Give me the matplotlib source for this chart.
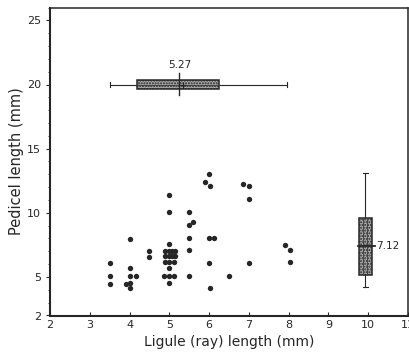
import matplotlib
matplotlib.use("Agg")
import matplotlib.pyplot as plt
from matplotlib.patches import Rectangle

# scatter data: ligule (x) vs pedicel (y) lengths, mm
ligule = [3.5, 3.5, 3.5,
          4.0, 4.0, 4.0, 4.15, 3.9, 4.0, 4.0,
          4.5, 4.5,
          5.0, 5.0, 5.0,
          4.88, 4.98, 5.06, 5.15,
          4.88, 4.98, 5.06, 5.15,
          4.88, 5.0, 5.12,
          5.0,
          4.87, 5.0, 5.12,
          5.0,
          5.5, 5.6, 5.5, 5.5, 5.5, 5.5,
          6.0, 5.9, 6.02, 6.0, 6.12, 6.0, 6.02,
          6.5,
          6.85, 7.0, 7.0, 7.0,
          7.92, 8.03, 8.03]
pedicel = [6.08, 5.05, 4.46,
           7.95, 5.69, 5.05, 5.08, 4.46, 4.57, 4.13,
           7.05, 6.54,
           11.42, 10.03, 7.57,
           7.05, 7.05, 7.05, 7.05,
           6.62, 6.62, 6.62, 6.62,
           6.15, 6.15, 6.15,
           5.69,
           5.08, 5.08, 5.08,
           4.57,
           10.03, 9.32, 9.03, 8.02, 7.08, 5.05,
           13.02, 12.42, 12.1, 8.02, 8.02, 6.1, 4.12,
           5.05,
           12.24, 12.1, 11.04, 6.1,
           7.47, 7.08, 6.17]

# summary of ligule length (drawn horizontally at y = 20)
lig_stats = dict(lo=3.51, q1=4.18, mean=5.25, med=5.35, q3=6.25, hi=7.97, label="5.27")
# summary of pedicel length (drawn vertically at x = 10)
ped_stats = dict(lo=4.23, q1=5.18, mean=7.45, q3=9.57, hi=13.08, label="7.12")

xticks = [2, 3, 4, 5, 6, 7, 8, 9, 10, 11]
yticks = [2, 5, 10, 15, 20, 25]

ink = "#262626"
fig = plt.figure(figsize=(4.09, 3.58), dpi=100)
ax = fig.add_axes([50/409, 1-315.5/358, 358/409, (315.5-7.5)/358])
ax.set_xlim(2, 11)
ax.set_ylim(2, 26)

ax.scatter(ligule, pedicel, s=15, color="#262626", zorder=3, linewidths=0)

# horizontal box (ligule) at y=20
yc, hh = 20.0, 0.38
s = lig_stats
ax.plot([s["lo"], s["q1"]], [yc, yc], color=ink, lw=0.8)
ax.plot([s["q3"], s["hi"]], [yc, yc], color=ink, lw=0.8)
for v in (s["lo"], s["hi"]):
    ax.plot([v, v], [yc-0.18, yc+0.18], color=ink, lw=0.8)
ax.add_patch(Rectangle((s["q1"], yc-hh), s["q3"]-s["q1"], 2*hh, facecolor="#a8a8a8",
                       edgecolor=ink, lw=1.1, hatch="......", zorder=2))
ax.plot([s["q1"], s["q3"]], [yc, yc], color="#444444", lw=0.8, zorder=3)
ax.plot([s["mean"], s["mean"]], [19.15, 20.92], color=ink, lw=1.0, zorder=4)
ax.plot([s["med"]], [yc], marker="+", color=ink, ms=4, mew=0.8, zorder=4)
ax.text(s["mean"]+0.02, 21.1, s["label"], ha="center", va="bottom", fontsize=7.5, color=ink)

# vertical box (pedicel) at x=10
xc, hw = 9.93, 0.16
s = ped_stats
ax.plot([xc, xc], [s["lo"], s["q1"]], color=ink, lw=0.8)
ax.plot([xc, xc], [s["q3"], s["hi"]], color=ink, lw=0.8)
for v in (s["lo"], s["hi"]):
    ax.plot([xc-0.07, xc+0.07], [v, v], color=ink, lw=0.8)
ax.add_patch(Rectangle((xc-hw, s["q1"]), 2*hw, s["q3"]-s["q1"], facecolor="#a8a8a8",
                       edgecolor=ink, lw=1.1, hatch="......", zorder=2))
ax.plot([xc-0.05, xc-0.05], [s["q1"], s["q3"]], color="#444444", lw=0.7, zorder=3)
ax.plot([xc+0.05, xc+0.05], [s["q1"], s["q3"]], color="#444444", lw=0.7, zorder=3)
ax.plot([9.74, 10.17], [s["mean"], s["mean"]], color=ink, lw=1.3, zorder=4)
ax.text(10.2, s["mean"], s["label"], ha="left", va="center", fontsize=7.5, color=ink)

ax.set_xticks(xticks)
ax.set_xticklabels([str(t) for t in xticks])
ax.set_yticks(yticks)
ax.set_yticks(range(2, 27), minor=True)
ax.tick_params(axis="x", direction="in", length=3, labelsize=8, colors=ink, pad=3)
ax.tick_params(axis="y", which="major", direction="out", length=3, labelsize=8, colors=ink)
ax.tick_params(axis="y", which="minor", direction="out", length=1.5, colors=ink)
for side in ("left", "bottom"):
    ax.spines[side].set_linewidth(1.5)
for side in ("top", "right"):
    ax.spines[side].set_linewidth(1.1)
for sp in ax.spines.values():
    sp.set_color(ink)

ax.set_xlabel("Ligule (ray) length (mm)", fontsize=10, color=ink, labelpad=4)
ax.set_ylabel("Pedicel length (mm)", fontsize=10.5, color=ink, labelpad=2)

fig.savefig("out.png", dpi=100)
